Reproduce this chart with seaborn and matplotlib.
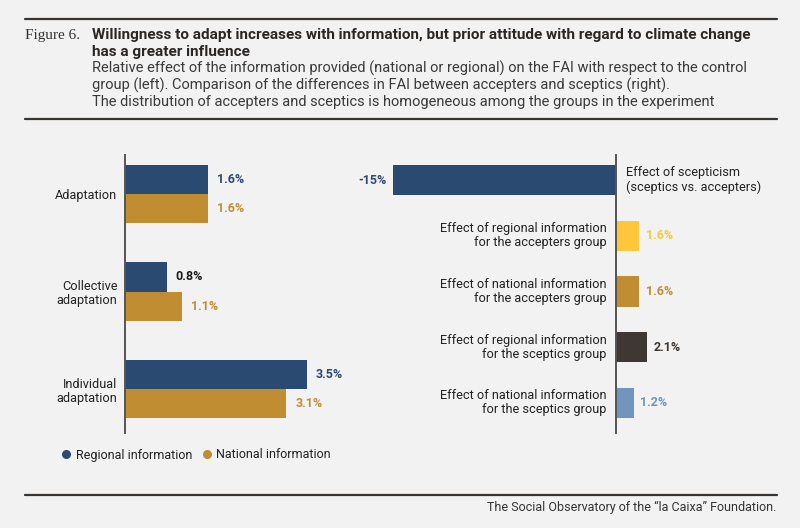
import matplotlib
matplotlib.use("Agg")
import matplotlib.pyplot as plt
from matplotlib.lines import Line2D
import seaborn as sns
import pandas as pd

# ---------------- data ----------------
left_categories = ["Adaptation", "Collective\nadaptation", "Individual\nadaptation"]
series_names = ["Regional information", "National information"]
regional_values = [1.6, 0.8, 3.5]
national_values = [1.6, 1.1, 3.1]
regional_labels = ["1.6%", "0.8%", "3.5%"]
national_labels = ["1.6%", "1.1%", "3.1%"]

right_categories = [
    "Effect of scepticism\n(sceptics vs. accepters)",
    "Effect of regional information\nfor the accepters group",
    "Effect of national information\nfor the accepters group",
    "Effect of regional information\nfor the sceptics group",
    "Effect of national information\nfor the sceptics group",
]
right_values = [-15, 1.6, 1.6, 2.1, 1.2]
right_labels = ["-15%", "1.6%", "1.6%", "2.1%", "1.2%"]

# ---------------- style ----------------
BG = "#f2f2f2"
NAVY = "#2b4a72"
GOLD = "#c18d33"
YELLOW = "#fec63a"
DARK = "#3e3733"
LIGHTBLUE = "#7195bd"
TEXT = "#222222"
LINE = "#3a3431"
CAT_FS = 9.2

sns.set_theme(style="white")
plt.rcParams["font.family"] = ["Roboto", "DejaVu Sans"]
plt.rcParams["text.color"] = TEXT

W, H = 800, 528
fig = plt.figure(figsize=(W / 100, H / 100), dpi=100, facecolor=BG)


def fx(px):
    return px / W


def fy(py):
    return 1 - py / H


# ---------------- header ----------------
for yy in (19, 119, 495):
    fig.add_artist(Line2D([fx(25), fx(777)], [fy(yy), fy(yy)], color=LINE, lw=1.6))

fig.text(fx(25), fy(35), "Figure 6.", family=["Liberation Serif", "DejaVu Serif"],
         fontsize=11, va="center", ha="left", color="#333333")
fig.text(fx(92), fy(35), "Willingness to adapt increases with information, but prior attitude with regard to climate change",
         fontsize=11.0, weight="bold", va="center", ha="left", color="#2a2624")
fig.text(fx(92), fy(52), "has a greater influence",
         fontsize=11.0, weight="bold", va="center", ha="left", color="#2a2624")
sub = ["Relative effect of the information provided (national or regional) on the FAI with respect to the control",
       "group (left). Comparison of the differences in FAI between accepters and sceptics (right).",
       "The distribution of accepters and sceptics is homogeneous among the groups in the experiment"]
for i, s in enumerate(sub):
    fig.text(fx(92), fy(68 + 17 * i), s, fontsize=10.55, va="center", ha="left", color="#3a3a3a")

fig.text(fx(776), fy(507), "The Social Observatory of the \u201cla Caixa\u201d Foundation.",
         fontsize=9, va="center", ha="right", color="#333333")

# ---------------- left panel ----------------
axL = fig.add_axes([fx(125), fy(433), fx(234), (433 - 155) / H])
axL.set_facecolor(BG)
dfL = pd.DataFrame({
    "category": left_categories * 2,
    "series": [series_names[0]] * 3 + [series_names[1]] * 3,
    "value": regional_values + national_values,
})
sns.barplot(data=dfL, x="value", y="category", hue="series", orient="h",
            palette=[NAVY, GOLD], width=0.6, linewidth=0, saturation=1,
            legend=False, ax=axL)
axL.set_xlim(0, 4.5)
axL.set_ylim(2.45, -0.4)
axL.set_xlabel("")
axL.set_ylabel("")
axL.set_xticks([])
for sp in ["top", "right", "bottom"]:
    axL.spines[sp].set_visible(False)
axL.spines["left"].set_color("#555555")
axL.spines["left"].set_linewidth(1.4)
axL.tick_params(axis="y", length=0, pad=5.5, labelsize=CAT_FS, labelcolor=TEXT)
for t in axL.get_yticklabels():
    t.set_multialignment("right")
    t.set_linespacing(1.1)

label_colors = [[NAVY, "#1a1a1a", NAVY], [GOLD, GOLD, GOLD]]
label_texts = [regional_labels, national_labels]
for ci, cont in enumerate(axL.containers):
    for bi, bar in enumerate(cont):
        axL.annotate(label_texts[ci][bi],
                     (bar.get_width(), bar.get_y() + bar.get_height() / 2),
                     xytext=(6.5, 0), textcoords="offset points",
                     va="center", ha="left", fontsize=9, weight="bold",
                     color=label_colors[ci][bi])

handles = [Line2D([], [], marker="o", ls="none", color=NAVY, markersize=5.5),
           Line2D([], [], marker="o", ls="none", color=GOLD, markersize=5.5)]
fig.legend(handles, series_names, loc="center left", bbox_to_anchor=(fx(62), fy(455)),
           ncol=2, frameon=False, borderpad=0, borderaxespad=0, handlelength=0.7,
           handletextpad=0.4, columnspacing=0.8, fontsize=9.0)

# ---------------- right panel ----------------
x0_px = 615.7
scale = 14.85
xmin, xmax = -17, 5
axR = fig.add_axes([fx(x0_px + xmin * scale), fy(433), fx((xmax - xmin) * scale), (433 - 155) / H])
axR.set_facecolor(BG)
axR.patch.set_alpha(0)
right_colors = [NAVY, YELLOW, GOLD, DARK, LIGHTBLUE]
dfR = pd.DataFrame({"category": right_categories, "value": right_values})
sns.barplot(data=dfR, x="value", y="category", hue="category", orient="h",
            palette=right_colors, width=0.54, linewidth=0, saturation=1,
            legend=False, ax=axR)
axR.set_xlim(xmin, xmax)
axR.set_ylim(4.54, -0.45)
axR.set_xlabel("")
axR.set_ylabel("")
axR.set_xticks([])
axR.set_yticks([])
for sp in ["top", "right", "bottom"]:
    axR.spines[sp].set_visible(False)
axR.spines["left"].set_position(("data", 0))
axR.spines["left"].set_color("#555555")
axR.spines["left"].set_linewidth(1.4)

label_colors_R = [NAVY, YELLOW, GOLD, DARK, LIGHTBLUE]
bars = sorted([p for p in axR.patches], key=lambda p: p.get_y())
for i, bar in enumerate(bars):
    yc = bar.get_y() + bar.get_height() / 2
    x_lo = min(bar.get_x(), bar.get_x() + bar.get_width())
    x_hi = max(bar.get_x(), bar.get_x() + bar.get_width())
    v = right_values[i]
    if v < 0:
        axR.annotate(right_labels[i], (x_lo, yc), xytext=(-4.5, 0),
                     textcoords="offset points", va="center", ha="right",
                     fontsize=9, weight="bold", color=label_colors_R[i])
        axR.annotate(right_categories[i], (0, yc), xytext=(7.5, 0),
                     textcoords="offset points", va="center", ha="left",
                     fontsize=CAT_FS, color=TEXT, multialignment="left",
                     linespacing=1.1)
    else:
        axR.annotate(right_labels[i], (x_hi, yc), xytext=(5, 0),
                     textcoords="offset points", va="center", ha="left",
                     fontsize=9, weight="bold", color=label_colors_R[i])
        axR.annotate(right_categories[i], (0, yc), xytext=(-6.5, 0),
                     textcoords="offset points", va="center", ha="right",
                     fontsize=CAT_FS, color=TEXT, multialignment="right",
                     linespacing=1.1)

fig.savefig("out.png", dpi=100, facecolor=BG)
